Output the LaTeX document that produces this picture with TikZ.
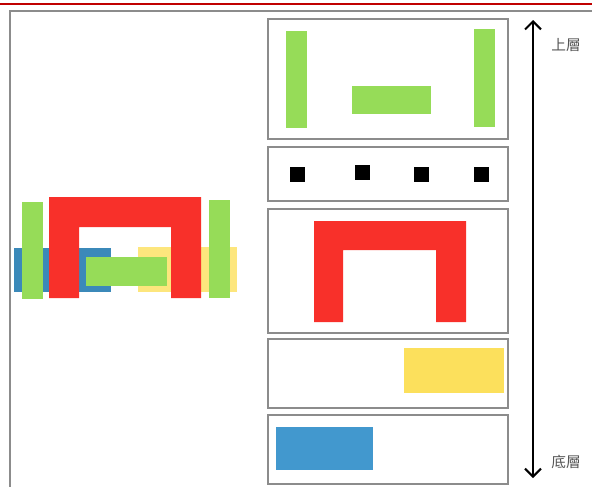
\documentclass[tikz,border=0pt]{standalone}
\usepackage{fontspec}
\usepackage{tikz}
\usetikzlibrary{arrows.meta}
\newfontfamily\cjk{Noto Sans CJK TC}
\definecolor{layergreen}{HTML}{96DC58}
\definecolor{layerred}{HTML}{F8302A}
\definecolor{layeryellow}{HTML}{FCE05C}
\definecolor{layerblue}{HTML}{4298CE}
\definecolor{framegray}{HTML}{8C8C8C}
\definecolor{textgray}{HTML}{555555}
\definecolor{rulered}{HTML}{C00000}

\begin{document}
\begin{tikzpicture}[x=0.75pt,y=-0.75pt,>={Straight Barb[length=6pt,width=12pt,line width=1.5pt]}]
  \useasboundingbox (0,0) rectangle (592,486);
  % top rule and outer frame
  \draw[rulered,line width=0.9pt] (0,4) -- (592,4);
  \draw[framegray,line width=1.4pt] (10,600) -- (10,11) -- (700,11);
  % composite of all layers
  \fill[layerblue!90!black] (14,248) rectangle (111,292);
  \fill[layeryellow,opacity=0.8] (138,247) rectangle (237,292);
  \fill[layerred] (49,298) -- (49,197) -- (201,197) -- (201,298) -- (171,298)
    -- (171,227) -- (79,227) -- (79,298) -- cycle;
  \fill[layergreen] (22,202) rectangle (43,299);
  \fill[layergreen] (209,200) rectangle (230,298);
  \fill[layergreen] (86,257) rectangle (167,286);
  % the layers one by one
  \draw[framegray,line width=1pt] (268,19) rectangle (508,139);
  \fill[layergreen] (286,31) rectangle (307,128);
  \fill[layergreen] (474,29) rectangle (495,127);
  \fill[layergreen] (352,86) rectangle (431,114);
  \draw[framegray,line width=1pt] (268,147) rectangle (508,201);
  \foreach \x/\y in {290/167,355/165,414/167,474/167}
    \fill[black] (\x,\y) rectangle ++(15,15);
  \draw[framegray,line width=1pt] (268,209) rectangle (508,333);
  \fill[layerred] (314,322) -- (314,221) -- (466,221) -- (466,322) -- (436,322)
    -- (436,250) -- (343,250) -- (343,322) -- cycle;
  \draw[framegray,line width=1pt] (268,339) rectangle (508,408);
  \fill[layeryellow] (404,348) rectangle (504,393);
  \draw[framegray,line width=1pt] (268,415) rectangle (508,484);
  \fill[layerblue] (276,427) rectangle (373,470);
  % upper and lower layer
  \coordinate (top) at (533,20);
  \coordinate (bottom) at (533,478);
  \draw[<->,line width=1.6pt] (top) -- (bottom);
  \node[textgray,font=\cjk\fontsize{11}{13}\selectfont] (upper) at (566,45) {上層};
  \node[textgray,font=\cjk\fontsize{11}{13}\selectfont] (lower) at (566,462) {底層};
\end{tikzpicture}
\end{document}
